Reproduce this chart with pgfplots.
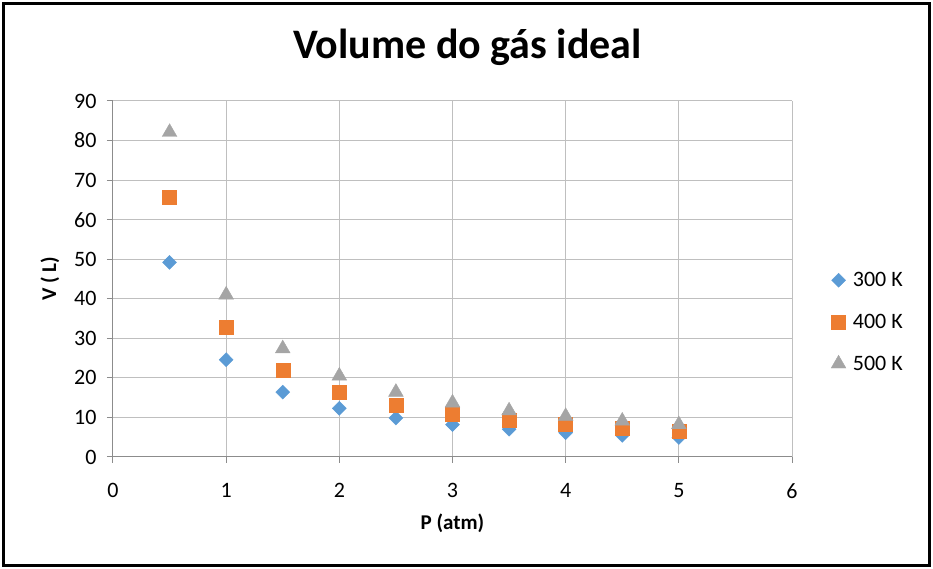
\documentclass[border=0pt]{standalone}
\usepackage{pgfplots}
\pgfplotsset{compat=1.18}
\usepackage{fontspec}
\setmainfont{Carlito}
\definecolor{c300}{HTML}{5B9BD5}
\definecolor{c400}{HTML}{ED7D31}
\definecolor{c500}{HTML}{A5A5A5}
\definecolor{gridc}{HTML}{BFBFBF}
\definecolor{axc}{HTML}{8C8C8C}
\begin{document}
\begin{tikzpicture}[x=1pt,y=1pt]
\useasboundingbox (-113,-112) rectangle (820,457);
\draw[black, line width=3pt] (-109.5,-108.5) rectangle (816.5,453.5);
\begin{axis}[
    at={(0,0)}, anchor=origin,
    scale only axis,
    width=679pt, height=356pt,
    xmin=0, xmax=6, ymin=0, ymax=90,
    xtick={0,1,...,6}, ytick={0,10,...,90},
    grid=major,
    grid style={gridc, line width=1pt},
    axis line style={axc, line width=1pt},
    axis x line*=bottom, axis y line*=left,
    tick style={axc, line width=1pt},
    tick align=outside,
    major tick length=6pt,
    /pgf/number format/assume math mode=true,
    tick label style={font=\fontsize{22}{26}\selectfont},
    xticklabel style={yshift=-17pt},
    yticklabel style={xshift=-7pt},
    xlabel={\textbf{P (atm)}},
    ylabel={\textbf{V ( L)}},
    label style={font=\fontsize{21}{25}\selectfont},
    xlabel style={yshift=-8pt},
    ylabel style={yshift=8pt},
    title={\textbf{Volume do gás ideal}},
    title style={font=\fontsize{42}{46}\selectfont, yshift=26pt, xshift=15pt},
    legend style={at={(1,0.5)}, anchor=west, xshift=36pt, yshift=-43pt,
        draw=none, fill=none, font=\fontsize{22}{26}\selectfont,
        row sep=22pt, cells={anchor=west},
        /tikz/every odd column/.append style={column sep=5pt}},
    legend cell align=left,
]
\addplot[only marks, mark=diamond*, mark size=7pt, color=c300, mark options={fill=c300, draw=c300, xscale=1.33}] coordinates {
    (0.5,49.2) (1,24.6) (1.5,16.4) (2,12.3) (2.5,9.85)
    (3,8.21) (3.5,7.03) (4,6.15) (4.5,5.47) (5,4.92)
};
\addlegendentry{300 K}
\addplot[only marks, mark=square*, mark size=7pt, color=c400, mark options={fill=c400, draw=c400}] coordinates {
    (0.5,65.6) (1,32.8) (1.5,21.9) (2,16.4) (2.5,13.1)
    (3,10.9) (3.5,9.38) (4,8.21) (4.5,7.29) (5,6.56)
};
\addlegendentry{400 K}
\addplot[only marks, mark=triangle*, mark size=8.5pt, color=c500, mark options={fill=c500, draw=c500}] coordinates {
    (0.5,82.1) (1,41.0) (1.5,27.4) (2,20.5) (2.5,16.4)
    (3,13.7) (3.5,11.7) (4,10.3) (4.5,9.12) (5,8.21)
};
\addlegendentry{500 K}
\end{axis}
\end{tikzpicture}
\end{document}
